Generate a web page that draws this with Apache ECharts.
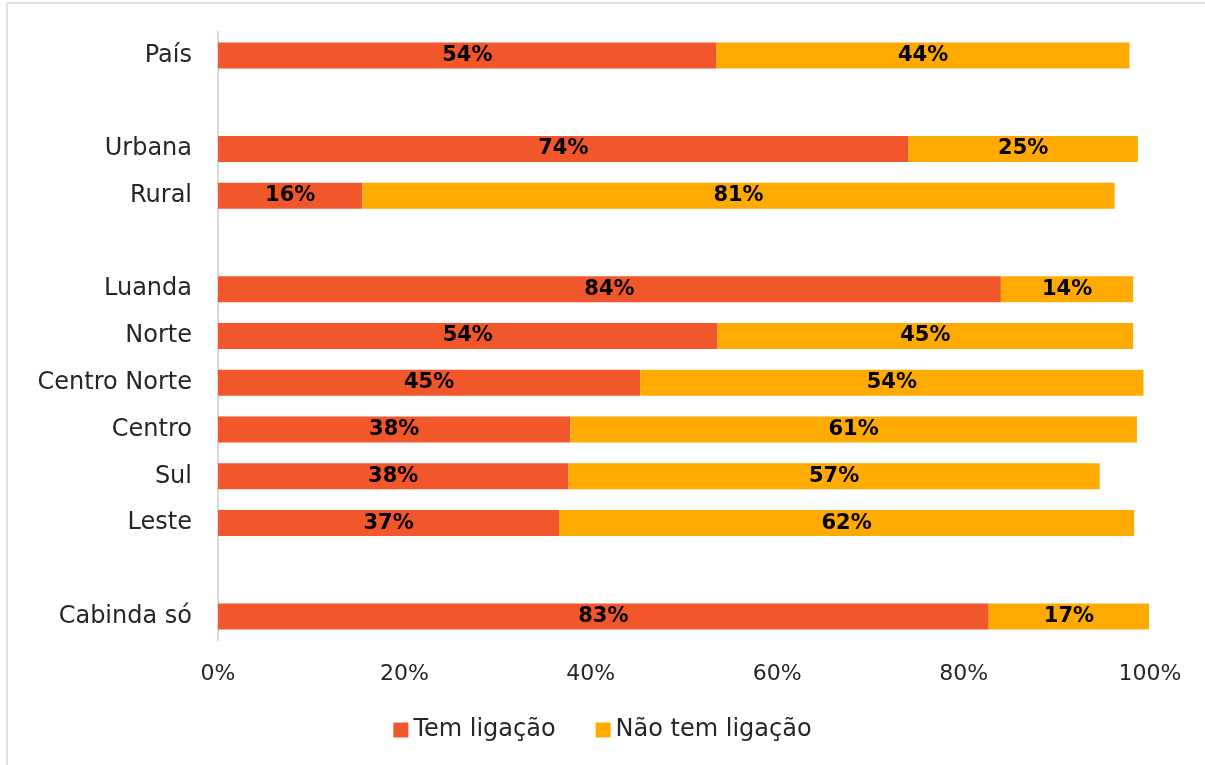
<!DOCTYPE html>
<html>
<head>
<meta charset="utf-8">
<script src="https://cdn.jsdelivr.net/npm/echarts@6/dist/echarts.min.js"></script>
<style>
  html, body { margin: 0; padding: 0; background: #fff; }
  #chart { width: 1205px; height: 765px; }
</style>
</head>
<body>
<div id="chart"></div>
<script>
// categorias (de cima para baixo); os espaços em branco separam os grupos
var categorias = ['País', ' ', 'Urbana', 'Rural', '  ', 'Luanda', 'Norte', 'Centro Norte', 'Centro', 'Sul', 'Leste', '   ', 'Cabinda só'];
var temLigacao    = [53.5, null, 74.1, 15.5, null, 84.0, 53.6, 45.3, 37.8, 37.6, 36.6, null, 82.7];
var naoTemLigacao = [44.3, null, 24.6, 80.7, null, 14.2, 44.6, 54.0, 60.8, 57.0, 61.7, null, 17.2];
var ticksX = [0, 20, 40, 60, 80, 100];

var fonte = 'DejaVu Sans';
var myChart = echarts.init(document.getElementById('chart'));

var rotulo = {
    show: true,
    position: 'inside',
    color: '#000',
    fontFamily: fonte,
    fontWeight: 'bold',
    fontSize: 21,
    formatter: function (p) { return p.value == null ? '' : Math.round(p.value) + '%'; }
};

var option = {
    animation: false,
    textStyle: { fontFamily: fonte },
    graphic: [{
        type: 'rect',
        shape: { x: 7, y: 3, width: 1210, height: 775 },
        style: { fill: 'none', stroke: '#d9d9d9', lineWidth: 1.5 },
        silent: true
    }],
    grid: { left: 218, right: 55, top: 32, bottom: 125, containLabel: false },
    legend: {
        bottom: 18,
        left: 'center',
        itemWidth: 15,
        itemHeight: 15,
        itemGap: 40,
        icon: 'rect',
        textStyle: { fontFamily: fonte, fontSize: 24, color: '#262626' },
        data: ['Tem ligação', 'Não tem ligação']
    },
    xAxis: {
        type: 'value',
        min: 0,
        max: 100,
        interval: 20,
        axisLine: { show: false },
        axisTick: { show: false },
        splitLine: { show: false },
        axisLabel: {
            margin: 23,
            fontSize: 22,
            color: '#262626',
            formatter: function (v) { return ticksX.indexOf(v) >= 0 ? v + '%' : ''; }
        }
    },
    yAxis: {
        type: 'category',
        inverse: true,
        data: categorias,
        axisLine: { show: true, lineStyle: { color: '#d9d9d9', width: 2 } },
        axisTick: { show: false },
        axisLabel: { margin: 26, fontSize: 24, color: '#262626' }
    },
    series: [{
        name: 'Tem ligação',
        type: 'bar',
        stack: 'total',
        barWidth: 26,
        itemStyle: { color: '#F2572B' },
        label: rotulo,
        data: temLigacao
    }, {
        name: 'Não tem ligação',
        type: 'bar',
        stack: 'total',
        barWidth: 26,
        itemStyle: { color: '#FFAA00' },
        label: rotulo,
        data: naoTemLigacao
    }]
};

myChart.setOption(option);
</script>
</body>
</html>
